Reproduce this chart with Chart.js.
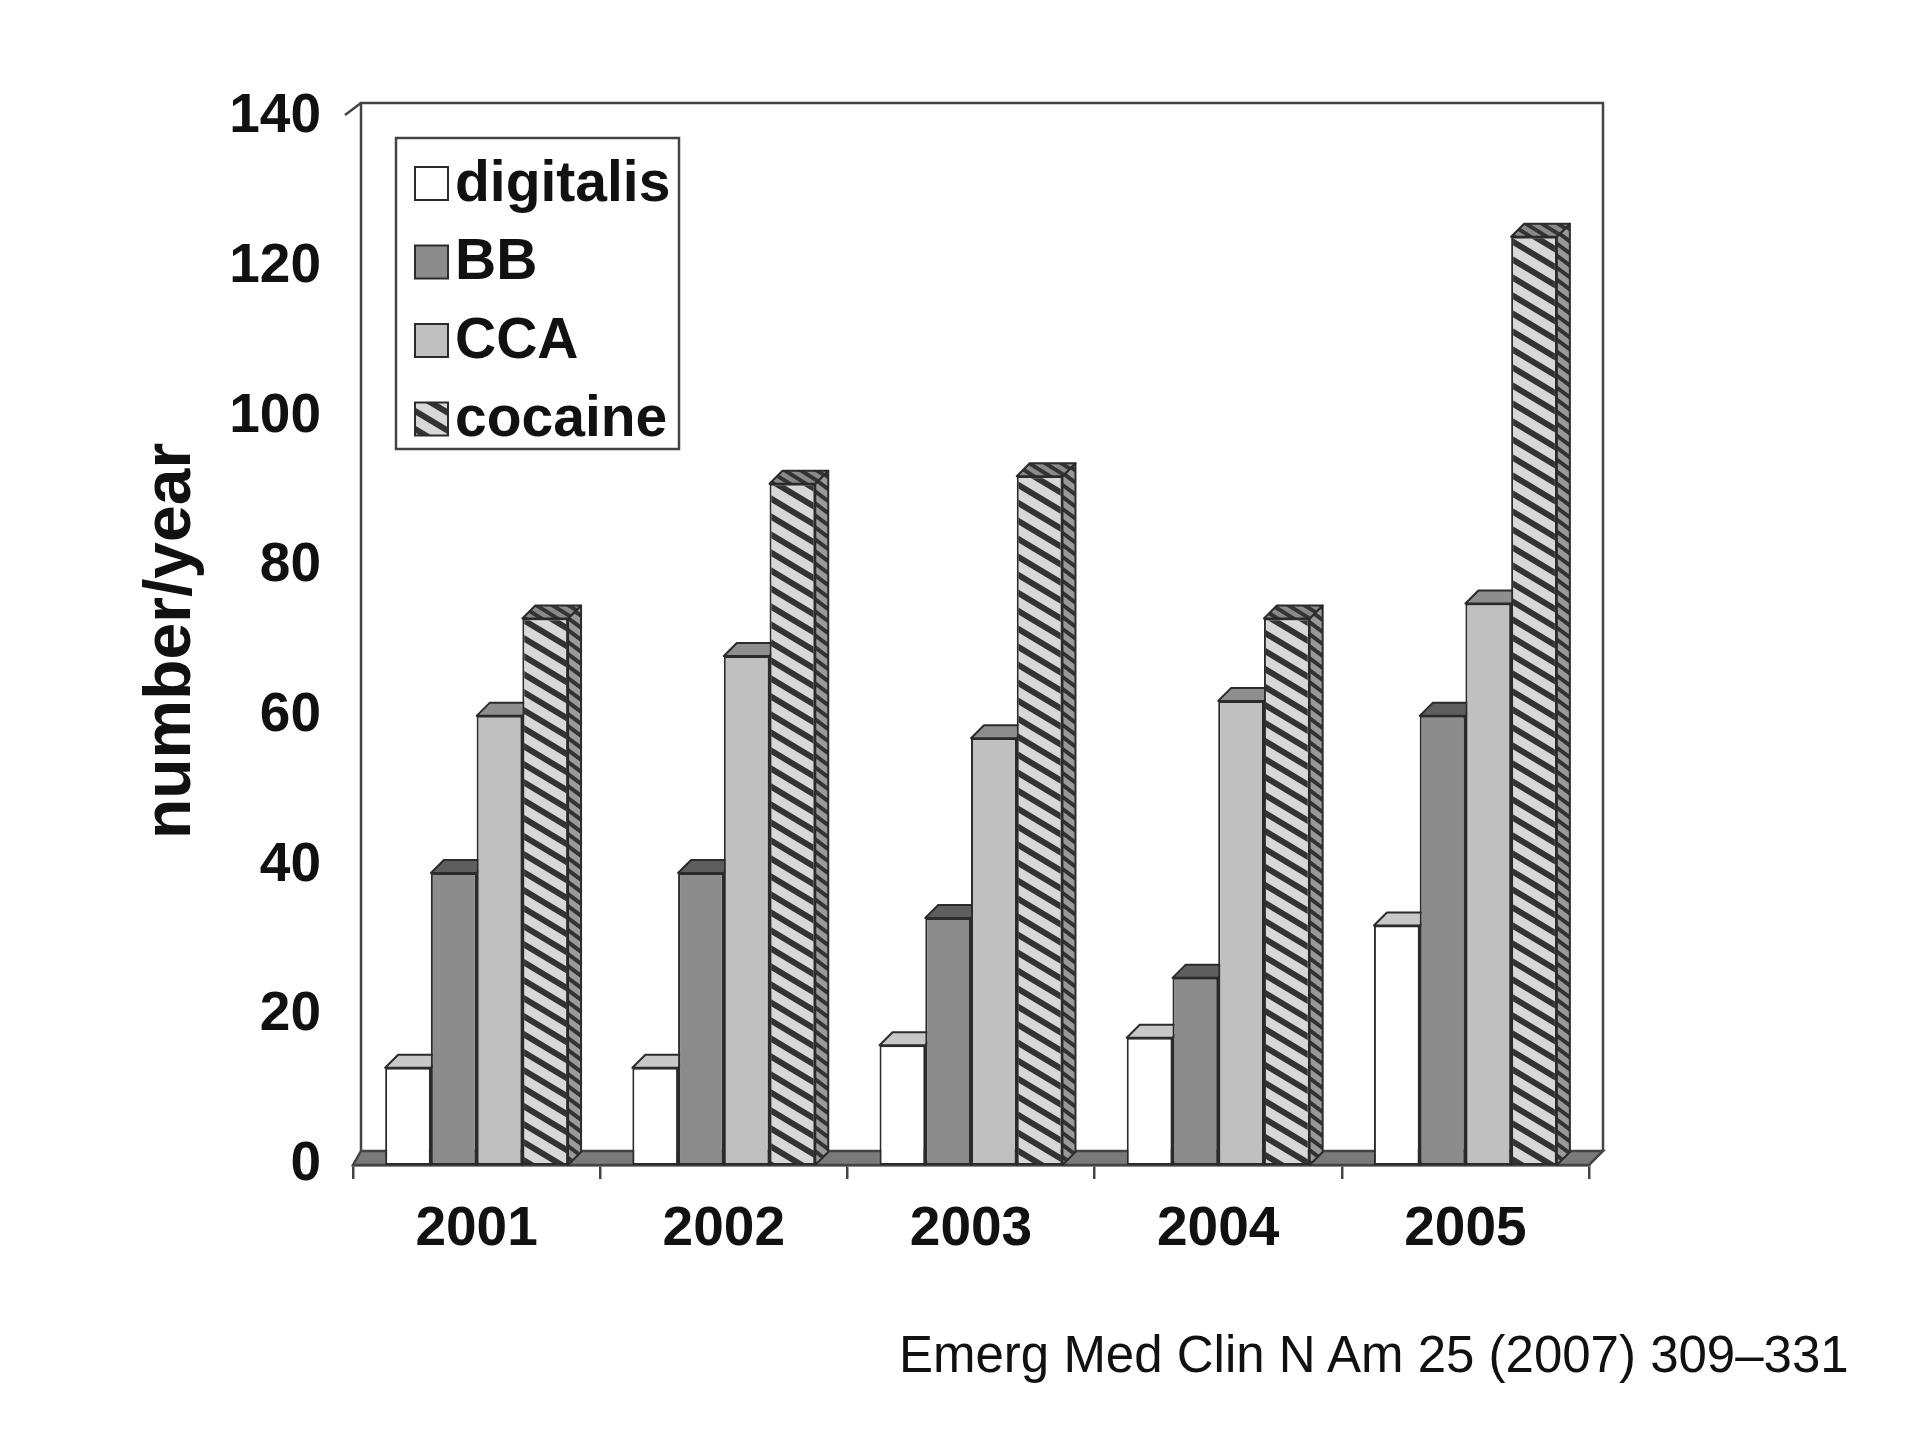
<!DOCTYPE html>
<html>
<head>
<meta charset="utf-8">
<title>number/year</title>
<script src="https://cdn.jsdelivr.net/npm/chart.js@4.4.0/dist/chart.umd.min.js"></script>
<style>
  html, body { margin: 0; padding: 0; background: #fff; }
  #wrap { position: relative; width: 1920px; height: 1440px; }
  #chart { position: absolute; left: 0; top: 0; }
  #source {
    position: absolute; left: 899px; top: 1330px;
    font-family: "Liberation Sans", Arial, sans-serif;
    font-size: 51px; line-height: 50px; color: #111; white-space: nowrap;
  }
</style>
</head>
<body>
<div id="wrap">
  <canvas id="chart" width="1920" height="1440"></canvas>
  <div id="source">Emerg Med Clin N Am 25 (2007) 309–331</div>
</div>
<script>
// Data
const years = ['2001', '2002', '2003', '2004', '2005'];
const seriesNames = ['digitalis', 'BB', 'CCA', 'cocaine'];
const digitalis = [13, 13, 16, 17, 32];
const bb = [39, 39, 33, 25, 60];
const cca = [60, 68, 57, 62, 75];
const cocaine = [73, 91, 92, 73, 124];
const yTicks = [0, 20, 40, 60, 80, 100, 120, 140];

const EDGE = '#2b2b2b';
const BAR_DX = 13, BAR_DY = 13;          // bar depth
const WALL_DXL = 8, WALL_DXR = 14, WALL_DY = 14; // back wall / floor depth

// slanted hatch fill (stripes running down to the right)
function hatch(bg, fg, w, h, lw) {
    const c = document.createElement('canvas');
    c.width = w; c.height = h;
    const g = c.getContext('2d');
    g.fillStyle = bg;
    g.fillRect(0, 0, w, h);
    g.strokeStyle = fg;
    g.lineWidth = lw;
    g.beginPath();
    for (let k = -1; k <= 1; k++) {
        g.moveTo(-w, k * h - h);
        g.lineTo(2 * w, k * h + 2 * h);
    }
    g.stroke();
    return g.createPattern(c, 'repeat');
}

const ctxEl = document.getElementById('chart');

function face(ctx, pts, fill) {
    ctx.beginPath();
    ctx.moveTo(pts[0][0], pts[0][1]);
    for (let i = 1; i < pts.length; i++) ctx.lineTo(pts[i][0], pts[i][1]);
    ctx.closePath();
    ctx.fillStyle = fill;
    ctx.fill();
    ctx.stroke();
}

// floor, back wall, and top/side faces of every bar (fronts are drawn by Chart.js afterwards)
const depthPlugin = {
    id: 'depth3d',
    beforeDatasetsDraw(chart) {
        const { left, right, top, bottom } = chart.chartArea;
        const ctx = chart.ctx;
        ctx.save();
        ctx.lineWidth = 2.5;
        ctx.strokeStyle = '#444';
        face(ctx, [[left, bottom], [right, bottom], [right + WALL_DXR, bottom - WALL_DY], [left + WALL_DXL, bottom - WALL_DY]], '#7a7a7a');
        ctx.beginPath();
        ctx.moveTo(left + WALL_DXL, bottom - WALL_DY);
        ctx.lineTo(left + WALL_DXL, top - WALL_DY);
        ctx.lineTo(right + WALL_DXR, top - WALL_DY);
        ctx.lineTo(right + WALL_DXR, bottom - WALL_DY);
        ctx.stroke();
        ctx.beginPath();
        ctx.moveTo(left - 8, top - 2);
        ctx.lineTo(left + WALL_DXL, top - WALL_DY);
        ctx.stroke();

        ctx.lineWidth = 2;
        ctx.strokeStyle = EDGE;
        ctx.lineJoin = 'round';
        chart.data.datasets.forEach((ds, i) => {
            chart.getDatasetMeta(i).data.forEach(bar => {
                const { x, y, base, width } = bar.getProps(['x', 'y', 'base', 'width'], true);
                const x0 = x - width / 2, x1 = x + width / 2;
                face(ctx, [[x1, y], [x1 + BAR_DX, y - BAR_DY], [x1 + BAR_DX, base - BAR_DY], [x1, base]], ds.sideColor);
                face(ctx, [[x0, y], [x1, y], [x1 + BAR_DX, y - BAR_DY], [x0 + BAR_DX, y - BAR_DY]], ds.topColor);
            });
        });
        ctx.restore();
    }
};

// boxed legend inside the plot
const legendPlugin = {
    id: 'boxLegend',
    afterDraw(chart) {
        const ctx = chart.ctx;
        const bx = 396, by = 138, bw = 283, bh = 311;
        ctx.save();
        ctx.fillStyle = '#fff';
        ctx.fillRect(bx, by, bw, bh);
        ctx.lineWidth = 2.5;
        ctx.strokeStyle = '#444';
        ctx.strokeRect(bx, by, bw, bh);
        ctx.font = 'bold 57px "Liberation Sans", Arial, sans-serif';
        ctx.textBaseline = 'middle';
        ctx.textAlign = 'left';
        chart.data.datasets.forEach((ds, i) => {
            const cy = 183 + i * 78.5;
            ctx.fillStyle = ds.backgroundColor;
            ctx.fillRect(415, cy - 16, 33, 33);
            ctx.lineWidth = 2;
            ctx.strokeStyle = EDGE;
            ctx.strokeRect(415, cy - 16, 33, 33);
            ctx.fillStyle = '#111';
            ctx.fillText(ds.label, 455, cy + 2);
        });
        ctx.restore();
    }
};

const seriesValues = [digitalis, bb, cca, cocaine];
const fronts = ['#ffffff', '#8c8c8c', '#c0c0c0', hatch('#d8d8d8', '#333', 30, 18, 6)];
const tops = ['#c8c8c8', '#5e5e5e', '#8e8e8e', hatch('#8a8a8a', '#333', 16, 10, 4)];
const sides = ['#d0d0d0', '#6a6a6a', '#9a9a9a', hatch('#9a9a9a', '#333', 16, 12, 4)];

const tickFont = { family: '"Liberation Sans", Arial, sans-serif', size: 55, weight: 'bold' };

new Chart(ctxEl, {
    type: 'bar',
    data: {
        labels: years,
        datasets: seriesNames.map((name, i) => ({
            label: name,
            data: seriesValues[i],
            backgroundColor: fronts[i],
            topColor: tops[i],
            sideColor: sides[i],
            borderColor: EDGE,
            borderWidth: 2,
            borderSkipped: false,
            categoryPercentage: 0.74,
            barPercentage: 1.0
        }))
    },
    options: {
        responsive: false,
        devicePixelRatio: 1,
        animation: false,
        layout: { padding: { left: 0, right: 331, top: 117, bottom: 155 } },
        plugins: {
            legend: { display: false },
            tooltip: { enabled: false }
        },
        scales: {
            x: {
                grid: { display: true, drawOnChartArea: false, drawTicks: true, tickLength: 14, color: '#444', lineWidth: 2.5 },
                border: { display: true, color: '#444', width: 2.5 },
                ticks: { color: '#111', font: tickFont, padding: 18 },
                afterFit(scale) { scale.height = 120; }
            },
            y: {
                min: 0,
                max: 140,
                grid: { display: false },
                border: { display: false },
                ticks: { color: '#111', font: tickFont, padding: 24 },
                afterBuildTicks(scale) { scale.ticks = yTicks.map(v => ({ value: v })); },
                title: {
                    display: true,
                    text: 'number/year',
                    color: '#111',
                    font: { family: '"Liberation Sans", Arial, sans-serif', size: 66, weight: 'bold' },
                    padding: { top: 132, bottom: 0 }
                },
                afterFit(scale) { scale.width = 353; }
            }
        }
    },
    plugins: [depthPlugin, legendPlugin]
});
</script>
</body>
</html>
